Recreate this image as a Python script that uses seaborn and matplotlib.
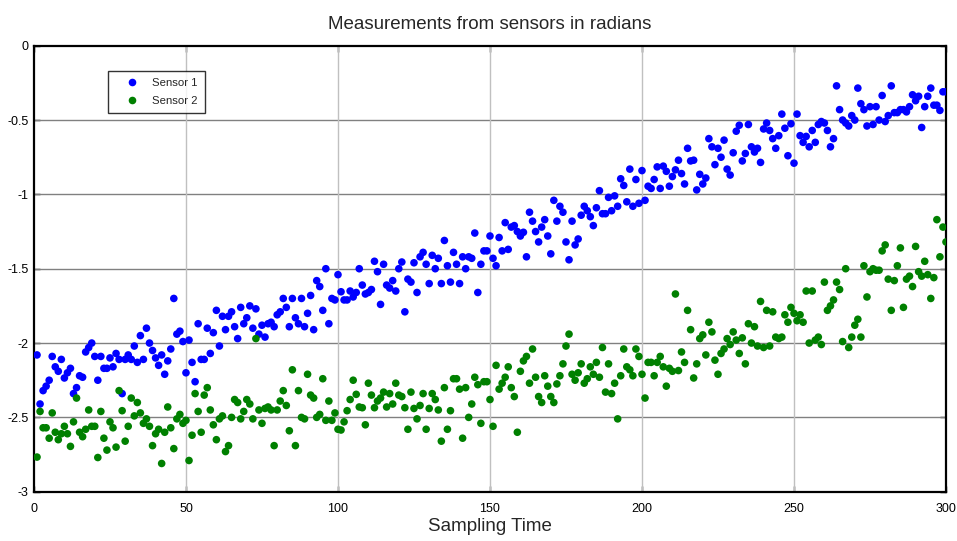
import numpy as np
import pandas as pd
import matplotlib
matplotlib.use("Agg")
import matplotlib.pyplot as plt
import seaborn as sns

# ---- data ----
sampling_time = list(range(1, 301))

sensor1 = [
    -2.08, -2.41, -2.32, -2.29, -2.25, -2.09, -2.16, -2.19, -2.11, -2.235,
    -2.20, -2.17, -2.34, -2.30, -2.22, -2.23, -2.06, -2.03, -2.00, -2.09,
    -2.25, -2.09, -2.17, -2.17, -2.10, -2.16, -2.07, -2.11, -2.34, -2.11,
    -2.08, -2.11, -2.02, -2.13, -1.95, -2.11, -1.90, -2.00, -2.05, -2.10,
    -2.15, -2.08, -2.21, -2.12, -2.04, -1.70, -1.94, -1.92, -1.99, -2.20,
    -1.98, -2.13, -2.26, -1.87, -2.11, -2.11, -1.90, -2.07, -1.93, -1.78,
    -2.02, -1.82, -1.91, -1.82, -1.79, -1.89, -1.97, -1.76, -1.87, -1.83,
    -1.75, -1.90, -1.77, -1.94, -1.88, -1.96, -1.87, -1.86, -1.89, -1.81,
    -1.79, -1.70, -1.76, -1.89, -1.70, -1.83, -1.87, -1.70, -1.89, -1.80,
    -1.68, -1.91, -1.58, -1.62, -1.78, -1.50, -1.87, -1.70, -1.71, -1.54,
    -1.655, -1.71, -1.71, -1.65, -1.69, -1.66, -1.50, -1.61, -1.67, -1.66,
    -1.64, -1.45, -1.52, -1.74, -1.47, -1.61, -1.63, -1.58, -1.65, -1.50,
    -1.455, -1.79, -1.57, -1.59, -1.46, -1.66, -1.42, -1.39, -1.47, -1.60,
    -1.41, -1.50, -1.43, -1.60, -1.31, -1.48, -1.59, -1.39, -1.47, -1.60,
    -1.42, -1.50, -1.42, -1.43, -1.26, -1.66, -1.47, -1.38, -1.38, -1.28,
    -1.43, -1.48, -1.29, -1.38, -1.19, -1.37, -1.22, -1.21, -1.25, -1.28,
    -1.255, -1.42, -1.12, -1.18, -1.25, -1.32, -1.22, -1.17, -1.28, -1.40,
    -1.04, -1.18, -1.08, -1.12, -1.32, -1.44, -1.18, -1.34, -1.30, -1.14,
    -1.08, -1.11, -1.15, -1.21, -1.09, -0.975, -1.13, -1.13, -1.02, -1.11,
    -1.01, -1.08, -0.895, -0.94, -1.05, -0.83, -1.08, -0.90, -1.06, -0.84,
    -1.04, -0.945, -0.96, -0.90, -0.815, -0.96, -0.81, -0.845, -0.945, -0.88,
    -0.835, -0.77, -0.86, -0.93, -0.69, -0.775, -0.77, -0.97, -0.865, -0.93,
    -0.89, -0.625, -0.68, -0.80, -0.69, -0.75, -0.635, -0.83, -0.87, -0.72,
    -0.575, -0.535, -0.775, -0.725, -0.53, -0.68, -0.715, -0.69, -0.785, -0.56,
    -0.52, -0.57, -0.625, -0.69, -0.605, -0.46, -0.555, -0.74, -0.525, -0.79,
    -0.46, -0.605, -0.65, -0.61, -0.68, -0.57, -0.65, -0.53, -0.51, -0.52,
    -0.57, -0.68, -0.625, -0.27, -0.43, -0.50, -0.52, -0.54, -0.47, -0.50,
    -0.285, -0.39, -0.43, -0.54, -0.41, -0.53, -0.41, -0.50, -0.335, -0.51,
    -0.47, -0.27, -0.45, -0.45, -0.43, -0.43, -0.445, -0.41, -0.33, -0.37,
    -0.34, -0.55, -0.41, -0.34, -0.285, -0.40, -0.40, -0.435, -0.31, -0.31,
]

sensor2 = [
    -2.767, -2.46, -2.57, -2.57, -2.64, -2.47, -2.60, -2.65, -2.61, -2.56,
    -2.61, -2.695, -2.53, -2.37, -2.60, -2.63, -2.58, -2.45, -2.56, -2.56,
    -2.77, -2.46, -2.64, -2.72, -2.53, -2.57, -2.70, -2.32, -2.455, -2.66,
    -2.56, -2.37, -2.49, -2.40, -2.47, -2.54, -2.51, -2.56, -2.69, -2.61,
    -2.58, -2.81, -2.60, -2.43, -2.57, -2.71, -2.51, -2.48, -2.54, -2.52,
    -2.79, -2.62, -2.34, -2.46, -2.60, -2.35, -2.30, -2.45, -2.55, -2.65,
    -2.51, -2.49, -2.73, -2.69, -2.50, -2.38, -2.40, -2.51, -2.46, -2.38,
    -2.41, -2.51, -1.97, -2.45, -2.54, -2.44, -2.43, -2.45, -2.69, -2.45,
    -2.39, -2.32, -2.42, -2.59, -2.18, -2.69, -2.32, -2.50, -2.51, -2.21,
    -2.35, -2.37, -2.50, -2.48, -2.24, -2.52, -2.39, -2.52, -2.47, -2.58,
    -2.585, -2.53, -2.455, -2.38, -2.25, -2.345, -2.43, -2.435, -2.55, -2.27,
    -2.35, -2.435, -2.39, -2.37, -2.33, -2.43, -2.34, -2.41, -2.27, -2.35,
    -2.36, -2.435, -2.58, -2.33, -2.44, -2.51, -2.42, -2.34, -2.58, -2.44,
    -2.34, -2.38, -2.45, -2.66, -2.30, -2.58, -2.455, -2.24, -2.24, -2.31,
    -2.64, -2.30, -2.50, -2.41, -2.23, -2.28, -2.54, -2.26, -2.26, -2.38,
    -2.56, -2.15, -2.31, -2.27, -2.23, -2.16, -2.30, -2.36, -2.60, -2.19,
    -2.12, -2.09, -2.27, -2.04, -2.23, -2.36, -2.40, -2.22, -2.29, -2.36,
    -2.40, -2.275, -2.22, -2.14, -2.02, -1.94, -2.21, -2.25, -2.20, -2.14,
    -2.27, -2.24, -2.16, -2.21, -2.13, -2.23, -2.03, -2.33, -2.14, -2.34,
    -2.27, -2.51, -2.22, -2.04, -2.16, -2.18, -2.22, -2.04, -2.09, -2.21,
    -2.37, -2.13, -2.13, -2.22, -2.13, -2.09, -2.16, -2.29, -2.17, -2.19,
    -1.67, -2.185, -2.06, -2.13, -1.78, -1.91, -2.235, -2.14, -1.97, -1.945,
    -2.08, -1.86, -1.925, -2.115, -2.21, -2.07, -2.04, -1.97, -2.01, -1.925,
    -1.98, -2.07, -1.965, -2.14, -1.87, -2.00, -1.89, -2.02, -1.72, -2.03,
    -1.78, -2.02, -1.79, -1.96, -1.97, -1.96, -1.81, -1.86, -1.76, -1.80,
    -1.85, -1.81, -1.86, -1.65, -2.00, -1.65, -1.98, -1.96, -2.01, -1.59,
    -1.78, -1.75, -1.71, -1.59, -1.64, -1.99, -1.50, -2.03, -1.96, -1.88,
    -1.84, -1.96, -1.48, -1.69, -1.52, -1.50, -1.51, -1.51, -1.38, -1.34,
    -1.57, -1.78, -1.58, -1.48, -1.36, -1.76, -1.57, -1.55, -1.62, -1.35,
    -1.52, -1.55, -1.45, -1.54, -1.70, -1.56, -1.17, -1.42, -1.22, -1.32,
]

series_names = ["Sensor 1", "Sensor 2"]
x_ticks = [0, 50, 100, 150, 200, 250, 300]
y_ticks = [0, -0.5, -1, -1.5, -2, -2.5, -3]
y_tick_labels = ["0", "-0.5", "-1", "-1.5", "-2", "-2.5", "-3"]

df = pd.DataFrame({
    "Sampling Time": sampling_time * 2,
    "value": sensor1 + sensor2,
    "Sensor": [series_names[0]] * len(sensor1) + [series_names[1]] * len(sensor2),
})

sns.set_style("white")
plt.rcParams["font.family"] = ["Liberation Sans", "DejaVu Sans"]

fig = plt.figure(figsize=(9.57, 5.41), dpi=100)
ax = fig.add_axes([0.0355, 0.0911, 0.953, 0.8244])

sns.scatterplot(
    data=df, x="Sampling Time", y="value", hue="Sensor",
    palette={"Sensor 1": "#0000ff", "Sensor 2": "#008000"},
    s=30, linewidth=0, marker="o", ax=ax, zorder=3,
)

ax.set_xlim(0, 300)
ax.set_ylim(-3, 0)
ax.set_xticks(x_ticks)
ax.set_xticklabels([str(t) for t in x_ticks], fontsize=9)
ax.set_yticks(y_ticks)
ax.set_yticklabels(y_tick_labels, fontsize=9)

# MATLAB-like grid: horizontal darker, vertical lighter
for yv in y_ticks[1:-1]:
    ax.axhline(yv, color="#808080", lw=1.0, zorder=1)
for xv in x_ticks[1:-1]:
    ax.axvline(xv, color="#c0c0c0", lw=1.0, zorder=1)

ax.tick_params(direction="in", length=4, width=1, top=True, right=True,
               bottom=True, left=True, colors="black")
ax.tick_params(axis="x", pad=8)
ax.tick_params(axis="y", pad=4)
for sp in ax.spines.values():
    sp.set_color("black")
    sp.set_linewidth(1.6)

ax.set_title("Measurements from sensors in radians", fontsize=13.5, pad=12)
ax.set_xlabel("Sampling Time", fontsize=13.5, labelpad=2)
ax.set_ylabel("")

leg = ax.legend(loc="upper left", bbox_to_anchor=(0.0811, 0.9433),
                borderaxespad=0, fontsize=8.2, frameon=True, fancybox=False,
                edgecolor="black", handletextpad=0.25, markerscale=1.0,
                borderpad=0.62, labelspacing=0.68, handlelength=3.0)
leg.get_frame().set_linewidth(1.0)

fig.savefig("out.png", dpi=100)
